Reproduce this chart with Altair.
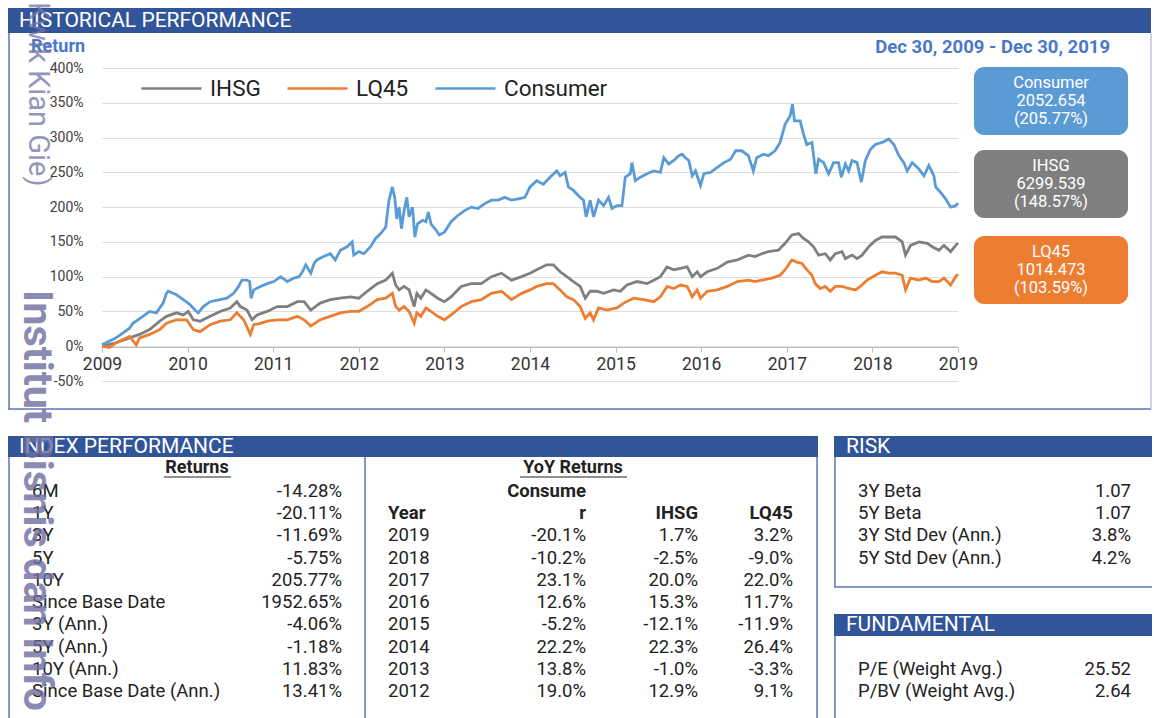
import altair as alt
import pandas as pd

# ---------------- data ----------------
series_names = ["IHSG", "LQ45", "Consumer"]
series_colors = ["#7F7F7F", "#ED7D31", "#5B9BD5"]

cons_year = [2009.000, 2009.165, 2009.322, 2009.361, 2009.478, 2009.557, 2009.635, 2009.714, 2009.753, 2009.773,
             2009.871, 2009.949, 2010.027, 2010.086, 2010.125, 2010.184, 2010.263, 2010.380, 2010.459, 2010.537,
             2010.596, 2010.635, 2010.694, 2010.725, 2010.741, 2010.773, 2010.851, 2010.929, 2011.008, 2011.086,
             2011.165, 2011.243, 2011.302, 2011.341, 2011.380, 2011.439, 2011.478, 2011.510, 2011.588, 2011.667,
             2011.725, 2011.784, 2011.863, 2011.922, 2011.941, 2012.000, 2012.059, 2012.137, 2012.196, 2012.255,
             2012.314, 2012.353, 2012.392, 2012.420, 2012.443, 2012.471, 2012.498, 2012.529, 2012.561, 2012.588,
             2012.627, 2012.655, 2012.686, 2012.745, 2012.784, 2012.812, 2012.843, 2012.902, 2012.941, 2013.000,
             2013.078, 2013.157, 2013.235, 2013.314, 2013.392, 2013.471, 2013.549, 2013.627, 2013.706, 2013.784,
             2013.863, 2013.941, 2014.000, 2014.078, 2014.156, 2014.234, 2014.313, 2014.352, 2014.410, 2014.449,
             2014.508, 2014.586, 2014.625, 2014.656, 2014.703, 2014.742, 2014.801, 2014.859, 2014.918, 2014.957,
             2015.016, 2015.074, 2015.113, 2015.172, 2015.191, 2015.230, 2015.289, 2015.367, 2015.445, 2015.523,
             2015.563, 2015.621, 2015.680, 2015.738, 2015.777, 2015.816, 2015.855, 2015.895, 2015.934, 2015.992,
             2016.031, 2016.109, 2016.188, 2016.266, 2016.344, 2016.402, 2016.473, 2016.551, 2016.609, 2016.648,
             2016.727, 2016.785, 2016.863, 2016.922, 2016.980, 2017.039, 2017.066, 2017.090, 2017.156, 2017.195,
             2017.234, 2017.293, 2017.340, 2017.371, 2017.430, 2017.488, 2017.547, 2017.605, 2017.637, 2017.684,
             2017.723, 2017.762, 2017.820, 2017.871, 2017.918, 2017.977, 2018.035, 2018.113, 2018.191, 2018.250,
             2018.309, 2018.367, 2018.406, 2018.465, 2018.543, 2018.602, 2018.660, 2018.719, 2018.738, 2018.797,
             2018.855, 2018.914, 2018.973, 2019.000]
cons_ret = [2, 12, 26, 33, 43, 50, 48, 62, 76, 79,
            74, 67, 60, 52, 48, 57, 64, 67, 69, 76,
            86, 95, 95, 93, 69, 81, 86, 90, 93, 100,
            93, 98, 100, 107, 117, 105, 119, 124, 129, 133,
            124, 138, 143, 150, 131, 136, 133, 143, 155, 162,
            171, 210, 229, 214, 183, 200, 169, 195, 214, 186,
            200, 157, 176, 181, 179, 193, 176, 167, 160, 164,
            179, 188, 195, 200, 198, 205, 210, 210, 214, 210,
            212, 214, 229, 238, 233, 243, 252, 245, 250, 229,
            224, 214, 210, 186, 210, 186, 210, 202, 214, 198,
            202, 202, 243, 248, 264, 238, 243, 248, 252, 250,
            271, 262, 267, 274, 276, 271, 267, 245, 252, 231,
            248, 250, 257, 264, 269, 281, 281, 274, 252, 271,
            276, 274, 281, 293, 319, 331, 348, 324, 324, 305,
            290, 293, 248, 269, 264, 248, 264, 264, 243, 262,
            252, 267, 264, 236, 267, 283, 290, 293, 298, 290,
            274, 264, 252, 264, 255, 245, 260, 245, 229, 221,
            212, 200, 202, 205.77]

ihsg_year = [2009.000, 2009.165, 2009.322, 2009.439, 2009.557, 2009.675, 2009.753, 2009.871, 2009.949, 2010.008,
             2010.067, 2010.145, 2010.263, 2010.380, 2010.498, 2010.576, 2010.616, 2010.694, 2010.753, 2010.812,
             2010.929, 2011.047, 2011.165, 2011.282, 2011.361, 2011.439, 2011.549, 2011.667, 2011.784, 2011.902,
             2012.000, 2012.098, 2012.216, 2012.314, 2012.392, 2012.431, 2012.471, 2012.529, 2012.588, 2012.647,
             2012.678, 2012.725, 2012.784, 2012.843, 2012.922, 2013.000, 2013.078, 2013.196, 2013.314, 2013.431,
             2013.549, 2013.667, 2013.784, 2013.902, 2014.000, 2014.078, 2014.195, 2014.273, 2014.352, 2014.430,
             2014.508, 2014.586, 2014.645, 2014.703, 2014.781, 2014.859, 2014.977, 2015.055, 2015.133, 2015.250,
             2015.367, 2015.445, 2015.523, 2015.602, 2015.680, 2015.758, 2015.836, 2015.895, 2015.953, 2015.992,
             2016.070, 2016.188, 2016.305, 2016.422, 2016.551, 2016.629, 2016.707, 2016.785, 2016.902, 2016.980,
             2017.059, 2017.137, 2017.195, 2017.254, 2017.313, 2017.371, 2017.449, 2017.508, 2017.566, 2017.645,
             2017.684, 2017.762, 2017.820, 2017.879, 2017.957, 2018.035, 2018.113, 2018.191, 2018.270, 2018.348,
             2018.387, 2018.445, 2018.543, 2018.641, 2018.699, 2018.777, 2018.836, 2018.914, 2018.973, 2019.000]
ihsg_ret = [0, 5, 12, 17, 24, 36, 43, 48, 45, 50,
            38, 36, 43, 50, 55, 64, 57, 52, 38, 45,
            50, 57, 57, 64, 64, 52, 62, 67, 69, 71,
            69, 79, 90, 95, 105, 88, 81, 86, 81, 57,
            76, 69, 81, 76, 69, 64, 71, 86, 90, 90,
            100, 105, 95, 100, 105, 110, 117, 117, 107, 100,
            93, 86, 69, 79, 79, 76, 81, 79, 88, 93,
            90, 95, 100, 114, 110, 112, 114, 100, 107, 100,
            107, 112, 121, 124, 131, 129, 133, 136, 138, 148,
            160, 162, 155, 150, 143, 131, 133, 124, 133, 136,
            126, 131, 126, 131, 143, 152, 157, 157, 157, 150,
            131, 145, 150, 148, 143, 138, 145, 136, 145, 148.57]

lq45_year = [2009.000, 2009.086, 2009.165, 2009.322, 2009.400, 2009.439, 2009.557, 2009.675, 2009.753, 2009.871,
             2009.988, 2010.067, 2010.145, 2010.263, 2010.380, 2010.498, 2010.576, 2010.655, 2010.733, 2010.773,
             2010.851, 2010.929, 2011.047, 2011.165, 2011.282, 2011.361, 2011.439, 2011.549, 2011.667, 2011.784,
             2011.902, 2012.000, 2012.098, 2012.216, 2012.314, 2012.392, 2012.431, 2012.471, 2012.529, 2012.588,
             2012.647, 2012.678, 2012.725, 2012.784, 2012.843, 2012.922, 2013.000, 2013.078, 2013.196, 2013.314,
             2013.431, 2013.549, 2013.667, 2013.784, 2013.902, 2014.000, 2014.078, 2014.195, 2014.273, 2014.352,
             2014.430, 2014.508, 2014.586, 2014.645, 2014.703, 2014.742, 2014.801, 2014.898, 2015.016, 2015.094,
             2015.211, 2015.328, 2015.445, 2015.523, 2015.602, 2015.680, 2015.758, 2015.836, 2015.895, 2015.953,
             2015.992, 2016.070, 2016.188, 2016.305, 2016.422, 2016.551, 2016.629, 2016.707, 2016.824, 2016.922,
             2016.980, 2017.059, 2017.117, 2017.176, 2017.234, 2017.293, 2017.332, 2017.391, 2017.449, 2017.508,
             2017.566, 2017.645, 2017.723, 2017.801, 2017.859, 2017.938, 2018.035, 2018.113, 2018.191, 2018.270,
             2018.348, 2018.387, 2018.445, 2018.543, 2018.621, 2018.699, 2018.777, 2018.836, 2018.914, 2018.973,
             2019.000]
lq45_ret = [0, -2, 5, 14, 2, 12, 17, 24, 33, 38,
            38, 24, 21, 31, 36, 38, 48, 38, 17, 31,
            33, 36, 38, 38, 43, 38, 29, 38, 43, 48,
            50, 50, 57, 67, 69, 76, 57, 52, 57, 50,
            33, 48, 43, 55, 50, 43, 38, 45, 57, 64,
            67, 76, 79, 67, 76, 81, 86, 90, 90, 81,
            71, 67, 57, 40, 48, 38, 55, 52, 55, 62,
            69, 67, 64, 71, 86, 83, 88, 86, 71, 81,
            69, 79, 81, 86, 93, 95, 93, 95, 98, 102,
            110, 124, 121, 119, 110, 102, 90, 83, 86, 79,
            86, 86, 83, 81, 86, 95, 102, 107, 105, 105,
            102, 81, 98, 95, 98, 93, 93, 98, 88, 100,
            103.59]

year_ticks = list(range(2009, 2020))
ret_ticks = [-50, 0, 50, 100, 150, 200, 250, 300, 350, 400]

box_names = ["Consumer", "IHSG", "LQ45"]
box_levels = ["2052.654", "6299.539", "1014.473"]
box_returns = ["(205.77%)", "(148.57%)", "(103.59%)"]

ret_labels = ["6M", "1Y", "3Y", "5Y", "10Y", "Since Base Date", "3Y (Ann.)", "5Y (Ann.)",
              "10Y (Ann.)", "Since Base Date (Ann.)"]
ret_values = ["-14.28%", "-20.11%", "-11.69%", "-5.75%", "205.77%", "1952.65%", "-4.06%", "-1.18%",
              "11.83%", "13.41%"]

yoy_years = ["2019", "2018", "2017", "2016", "2015", "2014", "2013", "2012"]
yoy_consumer = ["-20.1%", "-10.2%", "23.1%", "12.6%", "-5.2%", "22.2%", "13.8%", "19.0%"]
yoy_ihsg = ["1.7%", "-2.5%", "20.0%", "15.3%", "-12.1%", "22.3%", "-1.0%", "12.9%"]
yoy_lq45 = ["3.2%", "-9.0%", "22.0%", "11.7%", "-11.9%", "26.4%", "-3.3%", "9.1%"]

risk_labels = ["3Y Beta", "5Y Beta", "3Y Std Dev (Ann.)", "5Y Std Dev (Ann.)"]
risk_values = ["1.07", "1.07", "3.8%", "4.2%"]

fund_labels = ["P/E (Weight Avg.)", "P/BV (Weight Avg.)"]
fund_values = ["25.52", "2.64"]

# ---------------- layout helpers ----------------
FONT = "Roboto"
X0, Y0 = 102, 68          # plot origin on the page
W, H = 856, 313           # plot area
BAR = "#32559A"
EDGE = "#5A78B4"
TXT = "#222222"
BLUE_TXT = "#4A78C8"
TFS = 18.5                # table font size

one = pd.DataFrame({"a": [0]})


def rect(x1, y1, x2, y2, color, **kw):
    return alt.Chart(one).mark_rect(color=color, **kw).encode(
        x=alt.value(x1 - X0), x2=alt.value(x2 - X0), y=alt.value(y1 - Y0), y2=alt.value(y2 - Y0))


def hline(x1, x2, y, color=EDGE, w=1.5):
    return alt.Chart(one).mark_rule(color=color, strokeWidth=w).encode(
        x=alt.value(x1 - X0), x2=alt.value(x2 - X0), y=alt.value(y - Y0))


def vline(x, y1, y2, color=EDGE, w=1.5):
    return alt.Chart(one).mark_rule(color=color, strokeWidth=w).encode(
        x=alt.value(x - X0), y=alt.value(y1 - Y0), y2=alt.value(y2 - Y0))


def label(text, x, y, size=17, color=TXT, align="left", weight="normal", baseline="middle", **kw):
    return alt.Chart(one).mark_text(text=text, font=FONT, fontSize=size, color=color, align=align,
                                    baseline=baseline, fontWeight=weight, **kw).encode(
        x=alt.value(x - X0), y=alt.value(y - Y0))


# table rows share a row scale: row 0 at y=491, row 9 at y=691
row_scale = alt.Scale(domain=[0, 9], range=[491 - Y0, 691 - Y0], nice=False, zero=False)


def column(df, field, x, align, size=TFS, weight="normal"):
    return alt.Chart(df).mark_text(font=FONT, fontSize=size, color=TXT, align=align,
                                   baseline="middle", fontWeight=weight).encode(
        x=alt.value(x - X0),
        y=alt.Y("row:Q", scale=row_scale, axis=None),
        text=alt.Text(f"{field}:N"))


layers = []

# ---------- panel frames ----------
layers += [
    rect(8, 8, 1151, 33, BAR),
    vline(9, 33, 409), hline(8, 1151, 409), vline(1151, 33, 409, color="#9AAAD0", w=1),
    label("HISTORICAL PERFORMANCE", 19, 21, size=21, color="white"),
    rect(8, 436, 818, 457, BAR),
    vline(9, 457, 718), vline(365, 457, 718), vline(817, 457, 718),
    label("INDEX PERFORMANCE", 19, 447, size=21, color="white"),
    rect(834, 436, 1152, 457, BAR),
    vline(835, 457, 587), hline(834, 1152, 587),
    label("RISK", 846, 447, size=21, color="white"),
    rect(834, 614, 1152, 636, BAR),
    vline(835, 636, 718),
    label("FUNDAMENTAL", 846, 625, size=21, color="white"),
    label("Return", 31, 47, size=18, color=BLUE_TXT, weight="bold"),
    label("Dec 30, 2009 - Dec 30, 2019", 1110, 47, size=18.5, color=BLUE_TXT, weight="bold", align="right"),
]

# ---------- line chart ----------
series_df = pd.concat([
    pd.DataFrame({"series": "IHSG", "year": ihsg_year, "ret": ihsg_ret}),
    pd.DataFrame({"series": "LQ45", "year": lq45_year, "ret": lq45_ret}),
    pd.DataFrame({"series": "Consumer", "year": cons_year, "ret": cons_ret}),
])

lines = alt.Chart(series_df).mark_line(strokeWidth=2.8).encode(
    x=alt.X("year:Q", title=None,
            scale=alt.Scale(domain=[2009, 2019], nice=False, zero=False),
            axis=alt.Axis(values=year_ticks, format="d", offset=-34, grid=False,
                          domainColor="#BFBFBF", tickColor="#BFBFBF", tickSize=5,
                          labelFont=FONT, labelFontSize=17.5, labelColor="#333333",
                          labelPadding=3, labelFlush=False)),
    y=alt.Y("ret:Q", title=None,
            scale=alt.Scale(domain=[-50, 400], nice=False, zero=False),
            axis=alt.Axis(values=ret_ticks, labelExpr="datum.value + '%'", domain=False, ticks=False,
                          gridColor="#DDDDDD", gridWidth=1.2,
                          labelFont=FONT, labelFontSize=14, labelColor="#404040", labelPadding=19)),
    color=alt.Color("series:N",
                    scale=alt.Scale(domain=series_names, range=series_colors),
                    legend=alt.Legend(orient="none", legendX=140 - X0, legendY=87 - Y0 - 30,
                                      direction="horizontal", title=None, symbolType="stroke",
                                      symbolSize=3600, symbolStrokeWidth=2.5,
                                      labelFont=FONT, labelFontSize=22.5, labelColor=TXT,
                                      labelOffset=7, columnPadding=21, padding=0)),
    order=alt.Order("year:Q"),
)
layers.append(lines)

# ---------- info boxes ----------
box_centers = [101, 184, 270]
box_fill = {"Consumer": "#5B9BD5", "IHSG": "#7F7F7F", "LQ45": "#ED7D31"}
for name, lvl, r, cy in zip(box_names, box_levels, box_returns, box_centers):
    layers.append(rect(974, cy - 34, 1128, cy + 34, box_fill[name], cornerRadius=10))
    txt_df = pd.DataFrame({"row": [0, 1, 2], "t": [name, lvl, r]})
    line_scale = alt.Scale(domain=[0, 2], range=[cy - 18 - Y0, cy + 18 - Y0], nice=False, zero=False)
    layers.append(alt.Chart(txt_df).mark_text(font=FONT, fontSize=16.5, color="white", align="center",
                                              baseline="middle").encode(
        x=alt.value(1051 - X0), y=alt.Y("row:Q", scale=line_scale, axis=None), text="t:N"))

# ---------- index performance: returns ----------
ret_df = pd.DataFrame({"row": list(range(10)), "label": ret_labels, "value": ret_values})
layers += [
    label("Returns", 197, 468, size=18, align="center", weight="bold"),
    hline(164, 231, 477, color=TXT, w=1),
    column(ret_df, "label", 32, "left"),
    column(ret_df, "value", 342, "right"),
]

# ---------- YoY returns ----------
yoy_df = pd.DataFrame({"row": list(range(2, 10)), "year": yoy_years, "c": yoy_consumer,
                       "i": yoy_ihsg, "l": yoy_lq45})
hdr_df = pd.DataFrame({"row": [0, 1, 1, 1, 1], "t": ["Consume", "r", "IHSG", "LQ45", "Year"],
                       "col": ["c", "c", "i", "l", "y"]})
col_x = {"c": 586, "i": 698, "l": 793}
layers += [
    label("YoY Returns", 573, 468, size=18, align="center", weight="bold"),
    hline(520, 627, 477, color=TXT, w=1),
    column(yoy_df, "year", 388, "left"),
    column(yoy_df, "c", 586, "right"),
    column(yoy_df, "i", 698, "right"),
    column(yoy_df, "l", 793, "right"),
]
for key, x in col_x.items():
    layers.append(column(hdr_df[hdr_df.col == key], "t", x, "right", weight="bold"))
layers.append(column(hdr_df[hdr_df.col == "y"], "t", 388, "left", weight="bold"))

# ---------- risk & fundamental ----------
risk_df = pd.DataFrame({"row": list(range(4)), "label": risk_labels, "value": risk_values})
fund_df = pd.DataFrame({"row": [8, 9], "label": fund_labels, "value": fund_values})
layers += [
    column(risk_df, "label", 858, "left"),
    column(risk_df, "value", 1131, "right"),
    column(fund_df, "label", 858, "left"),
    column(fund_df, "value", 1131, "right"),
]

# ---------- watermark ----------
layers += [
    label("Kwik Kian Gie)", 38, 2, size=29, color="#7474A8", angle=90, opacity=0.75),
    label("Institut Bisnis dan Info", 36, 290, size=41.5, color="#6E6EA0", weight="bold",
          angle=90, opacity=0.8),
]

chart = alt.layer(*layers).resolve_scale(y="independent").properties(
    width=W, height=H,
    padding={"left": X0, "top": Y0, "right": 1154 - X0 - W, "bottom": 718 - Y0 - H},
    autosize=alt.AutoSizeParams(type="none"),
    background="white",
).configure_view(stroke=None)

chart.save("out.html", embed_options={"renderer": "svg", "actions": False})
